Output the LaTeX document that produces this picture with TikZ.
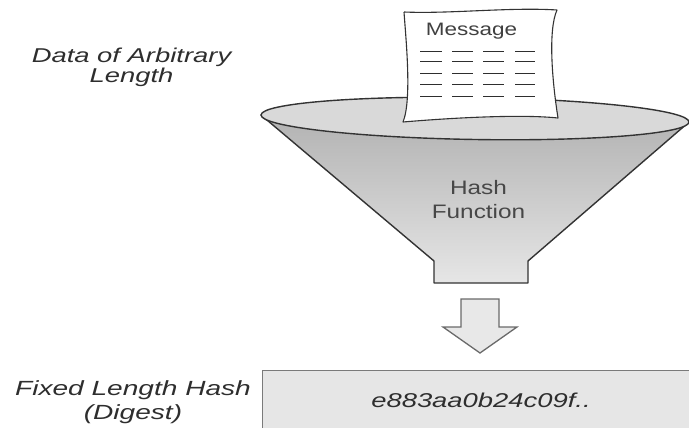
\documentclass[tikz,border=0pt]{standalone}
\usepackage{fontspec}
\setmainfont{Liberation Sans}
\usepackage{graphicx}
\definecolor{txt}{HTML}{2E2E2E}
\definecolor{edge}{HTML}{333333}
\definecolor{rimfill}{HTML}{D9D9D9}
\definecolor{conetop}{HTML}{B2B2B2}
\definecolor{conebot}{HTML}{E6E6E6}
\definecolor{boxfill}{HTML}{E6E6E6}
\definecolor{boxedge}{HTML}{7A7A7A}
\definecolor{arrowfill}{HTML}{E8E8E8}
\definecolor{arrowedge}{HTML}{6A6A6A}
\newcommand{\wideI}[1]{\scalebox{1.37}[1]{#1}}
\newcommand{\wideR}[1]{\scalebox{1.25}[1]{#1}}
\tikzset{
  lab/.style={text=txt, inner sep=0pt, align=center, font=\fontsize{20}{20}\selectfont\itshape},
  labb/.style={text=txt, inner sep=0pt, align=center, font=\fontsize{20.5}{24}\selectfont\itshape},
  inner/.style={text=txt, inner sep=0pt, align=center, font=\fontsize{19.5}{23.5}\selectfont},
  funnelline/.style={draw=edge, line width=1.4pt, line join=round},
  dashline/.style={draw=txt, line width=0.9pt},
}
\begin{document}
\begin{tikzpicture}[x=1pt,y=-1pt]
\useasboundingbox (0,0) rectangle (689,428);
\clip (0,0) rectangle (689,428);
% cone of the funnel
\path[funnelline, top color=conetop, bottom color=conebot]
  (261,115) -- (434,261) -- (434,283) -- (528,283) -- (528,261) -- (689,122) -- cycle;
% rim
\draw[funnelline, fill=rimfill, rotate around={-0.94:(475,118.5)}]
  (475,118.5) ellipse [x radius=214pt, y radius=21pt];
% paper
\draw[draw=edge, line width=1.1pt, fill=white, line join=round]
  (404,12) .. controls (450,14) and (510,7) .. (557,10)
  .. controls (548,30) and (552,80) .. (558,118)
  .. controls (520,114) and (450,118) .. (403,122)
  .. controls (412,100) and (406,40) .. (404,12);
\foreach \yy in {51,61,73,84,96}{
  \foreach \xa/\xb in {420/442,452/473,483/504,515/535}{
    \draw[dashline] (\xa,\yy) -- (\xb,\yy);
  }
}
\node[inner, anchor=base, font=\fontsize{18}{18}\selectfont, text=black!75] (msg) at (471.5,36) {\wideR{Message}};
\node[inner, anchor=base, text=black!72] (hashfn) at (478.5,218) {\wideR{Hash}\\\wideR{Function}};
% arrow
\draw[draw=arrowedge, fill=arrowfill, line width=1.3pt, line join=miter]
  (461,299) -- (499,299) -- (499,327) -- (517,327) -- (480,353) -- (443,327) -- (461,327) -- cycle;
% digest box
\node[draw=boxedge, fill=boxfill, line width=1.1pt, minimum width=460pt, minimum height=80pt, anchor=north west, inner sep=0pt] (digest) at (262,370) {};
\node[lab, anchor=base, font=\fontsize{20}{20}\selectfont\itshape] (hashval) at (481,407) {\wideI{e883aa0b24c09f..}};
% side labels
\node[lab, anchor=base] (data) at (131.5,83) {\wideI{Data of Arbitrary}\\\wideI{Length}};
\node[labb, anchor=base] (fixed) at (133,419) {\wideI{Fixed Length Hash}\\\wideI{(Digest)}};
\end{tikzpicture}
\end{document}
